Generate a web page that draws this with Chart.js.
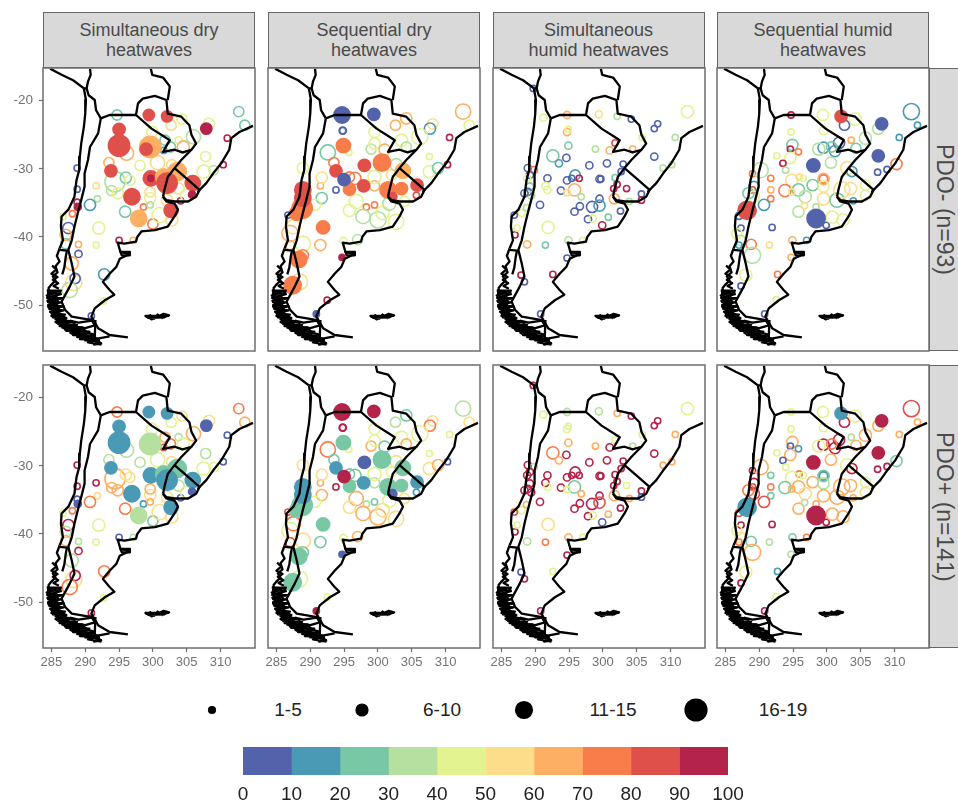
<!DOCTYPE html>
<html>
<head>
<meta charset="utf-8">
<title>Heatwaves by PDO phase</title>
<script src="https://cdn.jsdelivr.net/npm/chart.js@4"></script>
<style>
html, body { margin: 0; padding: 0; background: #fff; }
body { position: relative; width: 958px; height: 803px; overflow: hidden; font-family: "Liberation Sans", Arial, sans-serif; filter: blur(0.4px); }
canvas { position: absolute; }
.strip { position: absolute; background: #d9d9d9; border: 1.5px solid #666; box-sizing: border-box; color: #4a4a4a; display: flex; align-items: center; justify-content: center; text-align: center; }
.top { font-size: 18px; line-height: 20px; }
.side { font-size: 23px; writing-mode: vertical-rl; border-right: none; white-space: nowrap; }
.keylabel { position: absolute; font-size: 19px; color: #222; transform: translateX(-50%); }
</style>
</head>
<body>
<script>
// stations: lon, lat, count, % in PDO-, % in PDO+, filled
const simDry = [
  [294.7,-22.1,5,25,75,0],[312.7,-21.6,5,25,75,0],[313.6,-23.6,5,25,65,0],[308.3,-23.4,6,45,55,0],[307.9,-24.1,6,95,5,1],
  [302.7,-23.6,5,55,45,0],[304.3,-22.7,5,45,55,0],[299.4,-22.1,6,85,15,1],[302.1,-22.3,6,85,15,1],[311,-25.5,1,95,5,0],
  [296.1,-27.7,9,65,35,0],[299.9,-24.6,6,45,45,0],[301.8,-25.8,5,25,65,0],[302.6,-26.8,5,25,75,0],[303.8,-25.8,2,45,35,0],
  [304.5,-26.8,7,65,45,0],[306,-25.3,9,35,65,0],[301.6,-27.3,1,15,85,0],[307.8,-28.2,5,45,35,0],[309,-30.2,4,35,45,0],
  [307.5,-30.4,8,45,45,0],[310.4,-29.4,1,95,5,0],[293.5,-29.1,5,65,35,0],[298.1,-29.5,5,45,35,0],[300.7,-29.1,9,55,45,0],
  [302.8,-29.4,5,55,55,0],[294.4,-31.9,15,35,65,0],[296,-31.3,6,25,55,0],[296.6,-31.7,5,45,55,0],[293.9,-33.2,5,35,65,0],
  [294.8,-33.6,6,45,65,0],[291.6,-32.5,1,55,95,0],[291.8,-34.4,1,35,55,0],[288.8,-29.9,1,5,95,0],[288.8,-33,1,5,95,0],
  [288.8,-34.9,1,95,5,0],[290.7,-35.3,6,15,75,0],[288.1,-36.6,1,75,75,0],[287.5,-38.7,6,5,95,0],[287.1,-39.7,6,65,35,0],
  [287.1,-41,5,25,65,0],[286.7,-37,1,45,45,0],[289,-41.1,1,65,35,0],[291.6,-41.2,1,45,45,0],[292,-38.7,7,45,45,0],
  [295,-40.5,1,95,5,0],[297.1,-40.5,1,65,35,0],[298.6,-35.6,1,75,15,0],[299.6,-34.3,6,45,55,0],[299.6,-35.3,1,35,65,0],
  [295.9,-36.3,6,25,75,0],[300,-38.1,5,75,25,0],[301,-36.8,10,45,55,0],[302.8,-37.5,7,55,55,0],[304.1,-34.7,1,95,5,0],
  [302.1,-34.6,6,55,55,0],[303.8,-32.9,6,55,35,0],[289,-42.5,2,5,95,0],[288,-43.9,8,65,35,0],[292.8,-45.5,6,15,75,0],
  [288.3,-46.7,11,55,55,0],[288.5,-46.1,5,5,95,0],[287.7,-47.8,10,35,75,0],[292.7,-49.4,1,45,45,0],[290.9,-51.6,1,5,95,0],
  [299.6,-33.4,5,55,65,0],[305,-33.9,7,45,45,0],
  [299.6,-26.8,16,65,35,1],[299,-27.1,7,85,35,1],[295,-24.2,7,85,15,1],[295,-26.6,16,85,15,1],[293.8,-30.3,7,85,15,1],
  [303.6,-30.4,13,65,25,1],[299.7,-31.4,10,85,15,1],[299.7,-31.4,1,95,15,1],[301.6,-31.2,11,65,25,1],[302.1,-32.1,15,85,15,1],
  [305.9,-32.1,10,85,15,1],[305.8,-33.8,2,95,5,1],[296.9,-34.1,11,85,15,1],[288.9,-35.6,2,95,5,1],[297.9,-37.3,11,65,35,1],
  [302.7,-36.1,9,85,15,1]
];
const seqDry = [
  [312.6,-21.6,10,65,35,0],[313.5,-23.6,5,45,55,0],[294.8,-24.4,2,5,95,0],[294.8,-24.4,1,5,95,0],[302.6,-23.6,5,65,35,0],
  [304.2,-22.6,6,65,25,0],[308.1,-23.4,5,55,55,0],[307.7,-24.1,6,15,75,0],[310.6,-25.4,1,95,45,0],[310.3,-29.4,1,95,5,0],
  [299.5,-24.6,6,45,45,0],[295.7,-27.6,1,45,45,0],[292.6,-27.6,10,25,75,0],[293.5,-29.1,5,75,25,0],[299,-27.1,5,35,65,0],
  [299.5,-26.3,6,45,45,0],[301,-27.2,6,65,25,0],[303.5,-25.8,7,45,45,0],[304.2,-26.8,5,35,65,0],[306.2,-25.3,11,45,45,0],
  [307.6,-28.2,1,45,45,0],[307.6,-30.4,7,45,55,0],[308.9,-29.9,6,25,65,0],[305.7,-33.9,1,85,15,0],[296.6,-31.4,7,75,25,0],
  [295.8,-31.2,5,75,25,0],[299.5,-32.5,5,65,35,0],[299.5,-31.2,8,45,45,0],[302,-30.9,5,55,45,0],[302.7,-29.4,7,35,55,0],
  [293.8,-33.1,1,5,95,0],[291.5,-32.5,1,65,65,0],[291.7,-31.3,6,55,55,0],[291.7,-34.3,6,25,65,0],[290.7,-35.3,6,45,45,0],
  [288.9,-29.9,6,45,55,0],[286.7,-36.8,1,5,85,0],[287,-39.5,11,65,45,0],[287.5,-38.5,9,55,75,0],[287,-41.2,4,65,85,0],
  [288.9,-41,10,45,55,0],[291.5,-41.2,6,65,25,0],[294.9,-40.6,2,45,45,0],[297,-40.4,5,35,65,0],[288.9,-42.7,6,75,25,0],
  [288.4,-46.6,11,55,45,0],[292.5,-49.3,1,95,45,0],[296.8,-34.8,9,45,65,0],[295.8,-36.1,7,45,55,0],[298.3,-35.6,1,75,35,0],
  [299.5,-35.3,1,75,25,0],[297.8,-37,9,35,65,0],[300,-37.5,11,35,65,0],[302.7,-37.8,10,45,55,0],[300.7,-36.5,8,45,55,0],
  [303.9,-34.8,5,45,55,0],[301.7,-35.1,8,35,45,0],
  [294.7,-22.1,11,5,95,1],[299.4,-22,7,5,95,1],[294.9,-26.6,9,75,25,1],[293.8,-30.3,7,85,15,1],[298,-29.5,7,85,5,1],
  [300.6,-29.1,12,75,25,1],[303.7,-30.3,10,65,25,1],[303.5,-32.9,7,75,25,1],[305.8,-32.4,7,85,15,1],[297.9,-32.5,7,85,15,1],
  [295.8,-33,7,75,25,1],[295,-31.6,7,5,95,1],[301.5,-33.1,11,75,25,1],[302.2,-34.1,3,85,5,1],[288.8,-35.8,15,75,25,1],
  [288,-36.5,9,75,25,1],[288.9,-33.1,11,85,15,1],[288.9,-34.3,11,85,15,1],[291.9,-38.6,8,75,25,1],[294.7,-43,1,95,5,1],
  [288.3,-43.3,11,75,25,1],[287.4,-47.1,12,75,25,1],[290.9,-51.3,1,5,95,1]
];
const simHumid = [
  [289.7,-18.2,1,5,95,0],[291.2,-22.5,2,45,45,0],[294.7,-22.1,2,65,35,0],[299.4,-22,2,55,35,0],[302.1,-22.3,1,35,65,0],
  [304.2,-22.7,1,5,95,0],[312.5,-21.6,7,45,45,0],[308.1,-23.4,1,5,95,0],[307.6,-24.1,1,5,95,0],[310.7,-25.4,1,35,65,0],
  [307.6,-28.2,2,5,95,0],[294.7,-24.6,2,65,45,0],[294.9,-24.2,1,45,45,0],[294.9,-26.6,2,25,65,0],[294.6,-28.4,2,5,95,0],
  [292.6,-28.1,7,25,75,0],[293.5,-29.2,2,15,65,0],[298.9,-27.1,1,35,65,0],[301.8,-26.2,1,85,45,0],[301,-27.3,2,65,95,0],
  [304.4,-27.1,1,65,35,0],[305.8,-25.4,1,45,45,0],[298,-29.5,2,5,95,0],[300.6,-29.2,2,5,95,0],[303,-29.3,1,5,95,0],
  [291.8,-31.4,2,5,95,0],[294.7,-31.7,2,5,95,0],[295.9,-30.9,5,15,95,0],[296.5,-31.4,1,95,95,0],[295.4,-31.4,1,5,95,0],
  [299.5,-31.5,2,5,95,0],[299.7,-31.5,1,5,95,0],[301.8,-31.3,1,25,95,0],[302.7,-30.4,1,5,95,0],[293.8,-33.2,2,5,95,0],
  [291.5,-32.5,2,45,95,0],[291.8,-33.1,2,45,45,0],[295.8,-33.1,7,65,25,0],[294.7,-33.5,1,55,45,0],[296.8,-34.1,1,35,65,0],
  [290.7,-35.3,2,5,95,0],[299.5,-34.4,2,5,95,0],[296.6,-35.5,2,5,95,0],[295.8,-36.3,2,5,95,0],[298.4,-35.6,6,5,95,0],
  [299.5,-35.4,6,15,85,0],[297.8,-37.4,2,5,95,0],[298.5,-37.3,2,45,45,0],[300.8,-37.1,1,25,65,0],[299.9,-38.3,2,95,5,0],
  [302.6,-36.2,1,5,95,0],[301.7,-34.4,5,65,65,0],[301.6,-32.9,1,95,95,0],[302.1,-32.3,1,95,95,0],[303.5,-32.9,1,95,45,0],
  [305.7,-33.7,1,5,95,0],[305.7,-34.6,1,95,5,0],[303.9,-34.8,1,35,65,0],[308.9,-29.9,1,35,65,0],[310.2,-29.4,1,35,65,0],
  [291.9,-38.6,7,45,55,0],[291.5,-41.2,1,25,75,0],[294.9,-40.5,2,35,65,0],[297,-40.5,1,45,45,0],[294.7,-43.1,1,5,95,0],
  [292.6,-45.5,1,95,45,0],[290.8,-51.3,1,5,95,0],[287.9,-45.6,1,95,5,0],[288.4,-46.6,1,5,95,0],[288.8,-41.1,2,65,35,0],
  [287,-39.7,1,95,95,0],[287.3,-38.7,1,45,45,0],[288,-36.5,2,45,45,0],[288.7,-35.7,1,35,65,0],[286.9,-36.8,1,5,85,0],
  [288.9,-29.9,2,5,95,0],[289.8,-30.2,2,75,35,0],[289.2,-30.9,2,5,95,0],[289.2,-32.6,2,25,95,0],[288.9,-33.4,2,5,95,0],
  [289.4,-33.9,2,35,95,0],[288.4,-33.6,2,5,95,0],[288.8,-31.4,2,45,95,0]
];
const seqHumid = [
  [312.5,-21.6,11,15,85,0],[313.4,-23.6,1,15,65,0],[310.7,-25.4,1,15,65,0],[307.6,-24.1,6,35,65,0],[307.5,-30.5,1,5,95,0],
  [308.9,-30.1,1,5,95,0],[310.3,-29.3,6,75,25,0],[299.4,-22.1,6,45,45,0],[302.6,-23.6,5,5,95,0],[304.2,-22.7,7,45,45,0],
  [294.7,-22.1,1,95,45,0],[294.7,-24.6,1,45,45,0],[299.5,-24.4,3,45,45,0],[294.9,-26.5,6,25,65,0],[294.6,-27.1,1,95,5,0],
  [295.8,-27.5,1,75,15,0],[294.6,-28.4,6,45,65,0],[292.6,-28.1,1,45,45,0],[293.5,-29.2,1,95,5,0],[293.9,-30.2,1,35,45,0],
  [299.5,-26.9,6,15,95,0],[298.8,-27.1,7,35,45,0],[301.8,-26.2,6,5,95,0],[301.2,-27.4,6,15,95,0],[300.7,-26.8,5,25,75,0],
  [303.6,-25.8,1,65,35,0],[304.3,-27,5,25,65,0],[305.7,-25.5,7,35,65,0],[300.6,-29.1,6,35,65,0],[303,-29.9,8,55,45,0],
  [303.7,-30.4,5,15,95,0],[299.5,-31.5,6,65,25,0],[299.5,-31.5,3,75,15,0],[297.9,-32.4,6,25,65,0],[299.5,-32.6,6,45,35,0],
  [295.9,-31.2,1,55,75,0],[294.8,-31.7,7,55,45,0],[296.5,-31.4,1,45,45,0],[291.7,-31.4,1,75,25,0],[291.7,-33.1,1,65,75,0],
  [291.7,-34.4,1,75,25,0],[293.8,-33.2,7,75,25,0],[295.8,-33.1,7,25,65,0],[294.8,-33.4,1,55,65,0],[296.8,-34.1,7,35,55,0],
  [290.7,-35.3,6,15,85,0],[295.8,-36.3,6,35,65,0],[296.7,-35.4,1,55,35,0],[299.5,-34.4,7,55,65,0],[298.4,-35.6,1,35,65,0],
  [299.9,-38.3,1,5,95,0],[300.8,-37.1,7,45,65,0],[302.4,-37.5,7,45,65,0],[301.5,-34.6,9,25,65,0],[303.5,-32.9,7,55,65,0],
  [305.7,-32.4,5,45,45,0],[305.7,-33.9,5,45,55,0],[302.2,-33.1,11,55,65,0],[303.9,-34.7,1,15,65,0],[289,-30.7,1,75,95,0],
  [290.2,-30.2,10,35,65,0],[289.2,-32.6,5,15,95,0],[289,-33.1,1,85,85,0],[288.4,-33.6,6,25,75,0],[289.2,-34.1,6,45,85,0],
  [287,-36.9,2,5,85,0],[287.3,-38.7,1,5,95,0],[291.9,-38.6,1,5,95,0],[286.7,-39.5,5,45,45,0],[287.2,-40.5,5,35,55,0],
  [288.8,-41.1,5,75,25,0],[289,-42.7,11,35,65,0],[291.5,-41.2,1,55,35,0],[294.9,-40.5,2,65,25,0],[297,-40.5,1,15,75,0],
  [294.7,-43,1,65,35,0],[292.7,-45.5,1,75,15,0],[288,-45.6,7,45,45,0],[287.3,-47.2,1,5,95,0],[292.5,-49.2,1,45,45,0],
  [290.8,-51.3,1,5,95,0],[287,-41.2,1,15,75,0],
  [308.1,-23.4,7,5,95,1],[307.6,-28.1,7,5,95,1],[302.1,-22.3,7,85,15,1],[298,-29.5,8,5,95,1],[298.4,-37.3,13,5,95,1],
  [288.2,-36.1,13,85,15,1]
];

// country borders and coast, lon/lat
const peruCoast = [[284.8,-15.3],[286.5,-16.2],[288.2,-17],[289.8,-18.2]];
const peruBolivia = [[290.7,-15.3],[290.8,-16.2],[290.4,-17.2],[290.2,-18.2],[289.8,-18.2]];
const chileBolivia = [[290.2,-18.2],[290.5,-19.2],[291.4,-19.9],[291.6,-21.4],[292.3,-22.6]];
const chileCoast = [[289.8,-18.2],[290.1,-19.9],[290,-21.9],[289.8,-23.8],[289.4,-26.3],[289.2,-28.2],[289.1,-30.2],[288.7,-31.7],[288.4,-34.1],[287.5,-36],[286.5,-37],[286.4,-38.5],[286.7,-40.5],[286.2,-41.7]];
const andes = [[292.3,-22.6],[291.9,-24.8],[290.7,-26.8],[290.4,-28.7],[289.9,-30.7],[289.9,-32.6],[289.4,-34.6],[288.9,-36.5],[288.4,-38.5],[288,-40.5],[287.5,-41.9],[288,-43.9],[288.4,-45.8],[287.7,-47.3],[286.5,-49.5],[287,-50.7],[288,-51.7],[291,-52.2]];
const argentinaNorth = [[292.3,-22.6],[293.6,-22.1],[295.8,-22.1],[297.5,-22.1]];
const paraguay = [[297.5,-22.1],[297.8,-20.4],[298.5,-19.7],[300.3,-19.3],[302,-19.9],[302.2,-21.9],[304.2,-22.35],[305.4,-23.6],[305.7,-25],[306.4,-26.3],[305.7,-27.2],[304.4,-27.6],[303.2,-27.2],[301.5,-27.5],[302.5,-25.8],[301.7,-25.3],[299.8,-24.1],[297.5,-22.1]];
const boliviaBrazil = [[299.7,-15.3],[299.9,-16.2],[301.5,-16.6],[302.5,-17.9],[302.2,-19.9]];
const argentinaBrazil = [[305.7,-27.2],[304.2,-28.7],[303.2,-29.9],[302.2,-31.2],[301.7,-33.1],[301.5,-34.1]];
const uruguay = [[303.2,-29.9],[304.7,-31.2],[306.9,-33.1],[306.4,-34.1],[305.2,-34.8],[303.2,-34.8],[302,-34.6],[301.5,-34.1]];
const brazilCoast = [[306.6,-33.4],[307.9,-32.1],[308.9,-30.7],[310.1,-29.2],[311.3,-27.2],[311.6,-25.5],[312.8,-24.6],[314.8,-23.7]];
const patagonia = [[301.5,-34.1],[302,-34.8],[303.2,-35.1],[303.7,-36],[303.2,-37],[302.2,-38.5],[300.3,-39],[298.3,-39.2],[297.7,-40],[297.5,-40.7],[295.8,-41],[294.8,-40.85],[295.2,-42.2],[296.6,-42.5],[295.1,-43.2],[294.6,-44.4],[293.6,-45.4],[292.6,-46.6],[293.6,-47.8],[294.3,-48.5],[292.9,-49.3],[291.4,-50.5],[290.9,-51.7],[291.9,-53.4],[293.6,-54.4],[296.3,-54.75]];
const valdes = [[295.2,-42.2],[296.6,-42.2],[296.6,-42.7],[295.4,-42.7],[295.2,-42.2],[296.5,-42.45]];
const fuegoBorder = [[291.5,-52.2],[291.4,-54.9]];
const chiloe = [[286.2,-41.9],[287.3,-42],[287.1,-43],[286.9,-44.5],[286.6,-45.5]];
const fjords = [[286.2,-41.7],[285.8,-42.8],[286.2,-43.6],[285.6,-44.3],[285.9,-45.2],[285.2,-45.8],[285.6,-46.4],[285,-47],[284.5,-47.6]];
const specks = [[285.1,-44.2],[285.7,-44.8],[285,-45.4],[285.9,-45.9],[285.2,-46.3],[286,-46.8],[285.3,-47.2],[286.1,-47.6]];
const archipelago = [[284.4,-47.8],[285.6,-48.2],[284.3,-48.6],[285.8,-49],[284.4,-49.4],[285.9,-49.8],[284.5,-50.2],[286.1,-50.6],[284.8,-51],[286.3,-51.3],[285.2,-51.8],[287,-52],[285.6,-52.5],[287.6,-52.6],[286.2,-53.1],[288.4,-53.1],[287,-53.6],[289.2,-53.6],[287.8,-54.1],[290.2,-54.2],[288.8,-54.7],[291,-54.7],[290,-55.2],[292,-55.3],[291.3,-55.8],[292.5,-55.6]];
const channels = [[284.6,-47.6],[284.4,-49],[285,-49.3],[284.6,-50.4],[285.4,-50.8],[285,-51.6],[285.9,-51.6],[285.8,-52.6],[286.8,-52.4],[286.8,-53.4],[287.8,-53.3],[288,-54.2],[289,-54],[289.4,-54.8],[290.4,-54.6],[290.8,-55.4],[291.8,-55],[292.3,-55.7]];
const straits = [[286.4,-48],[285.6,-48.8],[286,-49.6],[285.4,-50.2],[286.4,-50.8],[285.8,-51.2],[286.8,-51.6],[287.2,-52.4],[288.4,-52.6],[288.2,-53.6],[289.8,-53.6],[290.4,-54.1],[291.2,-54.3],[291.6,-55]];
const islands = [[284.3,-47.9],[286.4,-47.9],[284.6,-48.3],[286.4,-48.4],[284.4,-48.9],[286.6,-49],[284.5,-49.6],[286.4,-49.6],[284.5,-50],[286.8,-50.2],[284.7,-50.6],[286.8,-50.8],[285,-51.2],[287,-51.4],[285.2,-51.5],[287.2,-51.9],[285.6,-52.1],[288,-52.4],[286,-52.8],[288.8,-52.9],[286.6,-53.3],[289.6,-53.3],[287.2,-53.8],[290.6,-53.9],[288.2,-54.4],[291.2,-54.5],[289.2,-55],[292,-55.1],[290.4,-55.5],[292.4,-55.8]];
const beagle = [[288.5,-53.9],[290,-54.9],[292,-54.9],[293.6,-54.6]];
const fuego = [[287.7,-52.3],[289,-52.6],[291,-52.3],[291.4,-53],[290,-53.4],[288.5,-53.2]];
const falklands = [[298.9,-51.8],[299.6,-51.5],[300.2,-52],[300.7,-51.4],[301.4,-51.9],[302.4,-51.5],[301.6,-51.3],[300.5,-51.8],[299.8,-52.1],[299.2,-51.7],[298.9,-51.6],[302.3,-51.6],[299.3,-51.9],[301.8,-51.8]];
const outlines = [peruCoast, peruBolivia, chileBolivia, chileCoast, andes, argentinaNorth, paraguay, boliviaBrazil, argentinaBrazil, uruguay, brazilCoast, patagonia, valdes, fuegoBorder, chiloe, fjords, specks, archipelago, channels, straits, islands, beagle, fuego, falklands];

const columnTitles = ['Simultaneous dry<br>heatwaves', 'Sequential dry<br>heatwaves', 'Simultaneous<br>humid heatwaves', 'Sequential humid<br>heatwaves'];
const columnData = [simDry, seqDry, simHumid, seqHumid];
const rowTitles = ['PDO- (n=93)', 'PDO+ (n=141)'];
const lonTicks = [285, 290, 295, 300, 305, 310];
const latTicks = [-20, -30, -40, -50];
const binColors = ['#5263ab', '#4b9ab5', '#79c8a5', '#b5e0a0', '#e3f390', '#fcdd8a', '#fdb064', '#f97c4b', '#e0504b', '#b3234a'];
const binWidths = [10, 10, 10, 10, 10, 10, 10, 10, 10, 10];
const sizeLabels = ['1-5', '6-10', '11-15', '16-19'];
const sizeCounts = [3, 8, 13, 18];

// layout in px
const colLeft = [43, 268, 492.5, 717];
const rowTop = [68, 365];
const panelW = 212;
const panelH = 283;
const sizeKeyX = [212, 362, 524, 696];
const sizeLabelX = [288, 442, 613, 783];

Chart.defaults.font.family = '"Liberation Sans", Arial, sans-serif';
Chart.defaults.animation = false;
Chart.defaults.responsive = false;

function radius(count) {
    return 2.6 + 0.5 * count;
}

function binColor(v) {
    return binColors[Math.min(9, Math.floor(v / 10))];
}

function addCanvas(left, top, w, h) {
    const c = document.createElement('canvas');
    c.width = w;
    c.height = h;
    c.style.left = left + 'px';
    c.style.top = top + 'px';
    document.body.appendChild(c);
    return c.getContext('2d');
}

function addStrip(cls, left, top, w, h, html) {
    const d = document.createElement('div');
    d.className = 'strip ' + cls;
    d.style.cssText = `left:${left}px;top:${top}px;width:${w}px;height:${h}px`;
    d.innerHTML = html;
    document.body.appendChild(d);
}

// tick labels must not push the panel inward, panels have to line up
function noPadding(s) {
    s.paddingLeft = s.paddingRight = s.paddingTop = s.paddingBottom = 0;
}

const panelFrame = {
    id: 'panelFrame',
    afterDraw(chart) {
        const { ctx, chartArea: a } = chart;
        ctx.save();
        ctx.strokeStyle = '#6e6e6e';
        ctx.lineWidth = 1.5;
        ctx.strokeRect(a.left, a.top, a.width, a.height);
        ctx.restore();
    }
};

function drawPanel(stations, col, row) {
    const hasY = col === 0;
    const hasX = row === 1;
    const yRoom = hasY ? 43 : 2;
    const xRoom = hasX ? 28 : 2;
    const ctx = addCanvas(colLeft[col] - yRoom, rowTop[row] - 2, yRoom + panelW + 2, panelH + 2 + xRoom);

    const valueIndex = row === 0 ? 3 : 4;
    const bubbles = {
        type: 'bubble',
        order: 1,
        data: stations.map(s => ({ x: s[0], y: s[1], r: radius(s[2]) })),
        backgroundColor: stations.map(s => s[5] ? binColor(s[valueIndex]) : 'rgba(0,0,0,0)'),
        borderColor: stations.map(s => binColor(s[valueIndex])),
        borderWidth: 1.6
    };
    const lines = outlines.map(line => ({
        type: 'scatter',
        order: 0,
        data: line.map(p => ({ x: p[0], y: p[1] })),
        showLine: true,
        pointRadius: 0,
        borderColor: '#000',
        borderWidth: 2.3,
        borderJoinStyle: 'round',
        tension: 0
    }));

    new Chart(ctx, {
        type: 'scatter',
        data: { datasets: [bubbles, ...lines] },
        options: {
            layout: { autoPadding: false, padding: { top: 2, right: 2, left: hasY ? 0 : 2, bottom: hasX ? 0 : 2 } },
            plugins: { legend: { display: false }, tooltip: { enabled: false } },
            scales: {
                x: {
                    type: 'linear',
                    min: 283.75,
                    max: 315.1,
                    display: hasX,
                    afterFit: s => { s.height = hasX ? 28 : 0; noPadding(s); },
                    afterBuildTicks: s => { s.ticks = lonTicks.map(v => ({ value: v })); },
                    border: { display: false },
                    grid: { drawOnChartArea: false, tickLength: 4, tickColor: '#6e6e6e', tickWidth: 1.2 },
                    ticks: { color: '#737373', font: { size: 13 }, padding: 3, maxRotation: 0, autoSkip: false }
                },
                y: {
                    type: 'linear',
                    min: -56.75,
                    max: -15.2,
                    display: hasY,
                    afterFit: s => { s.width = hasY ? 43 : 0; noPadding(s); },
                    afterBuildTicks: s => { s.ticks = latTicks.map(v => ({ value: v })); },
                    border: { display: false },
                    grid: { drawOnChartArea: false, tickLength: 4, tickColor: '#6e6e6e', tickWidth: 1.2 },
                    ticks: { color: '#737373', font: { size: 13.5 }, padding: 6, autoSkip: false }
                }
            }
        },
        plugins: [panelFrame]
    });
}

columnTitles.forEach((t, i) => addStrip('top', colLeft[i], 12, panelW, 56, t));
rowTitles.forEach((t, i) => addStrip('side', 929, rowTop[i], 29, panelH, t));
columnData.forEach((stations, col) => {
    drawPanel(stations, col, 0);
    drawPanel(stations, col, 1);
});

// size legend
sizeCounts.forEach((count, i) => {
    const ctx = addCanvas(sizeKeyX[i] - 15, 695, 30, 30);
    new Chart(ctx, {
        type: 'bubble',
        data: { datasets: [{ data: [{ x: 0, y: 0, r: radius(count) }], backgroundColor: '#000', borderColor: '#000', borderWidth: 0 }] },
        options: {
            layout: { autoPadding: false },
            plugins: { legend: { display: false }, tooltip: { enabled: false } },
            scales: { x: { display: false, min: -1, max: 1 }, y: { display: false, min: -1, max: 1 } }
        }
    });
    const label = document.createElement('div');
    label.className = 'keylabel';
    label.style.left = sizeLabelX[i] + 'px';
    label.style.top = '699px';
    label.textContent = sizeLabels[i];
    document.body.appendChild(label);
});

// colour bar
new Chart(addCanvas(223, 747, 525, 56), {
    type: 'bar',
    data: {
        labels: [''],
        datasets: binWidths.map((w, i) => ({ data: [w], backgroundColor: binColors[i], barPercentage: 1, categoryPercentage: 1 }))
    },
    options: {
        indexAxis: 'y',
        layout: { autoPadding: false, padding: { left: 20, right: 20 } },
        plugins: { legend: { display: false }, tooltip: { enabled: false } },
        scales: {
            x: {
                stacked: true,
                min: 0,
                max: 100,
                afterFit: s => { s.height = 28; },
                border: { display: false },
                grid: { display: false },
                ticks: { stepSize: 10, color: '#222', font: { size: 19 }, padding: 0, maxRotation: 0, autoSkip: false }
            },
            y: { stacked: true, display: false }
        }
    }
});
</script>
</body>
</html>
